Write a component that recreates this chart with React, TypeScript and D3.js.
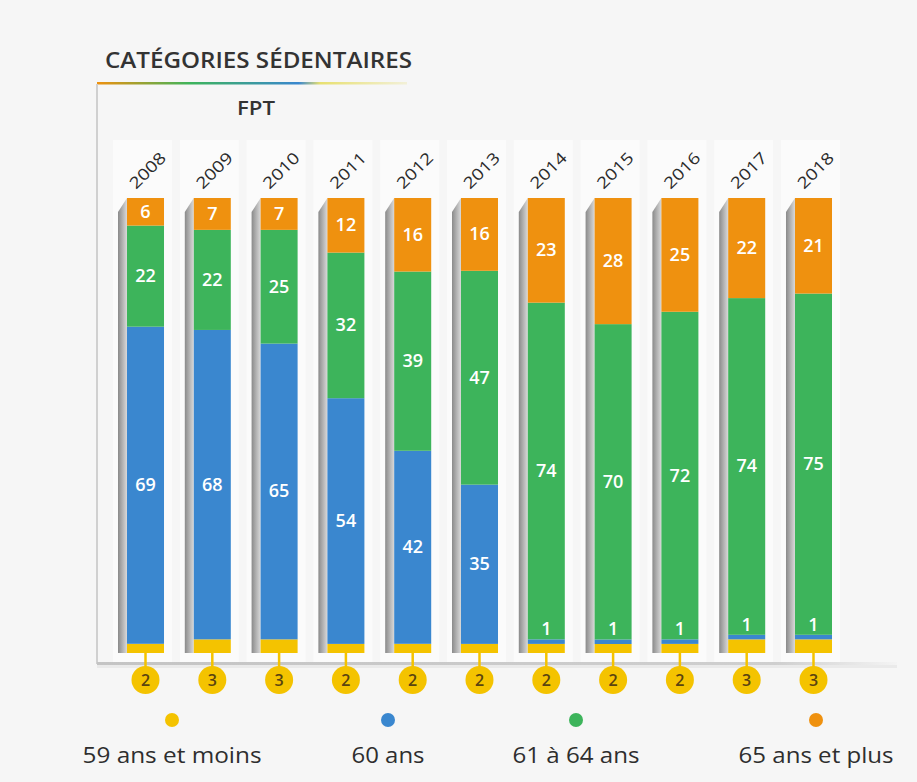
import React, { useEffect, useRef } from 'react';
import * as d3 from 'd3';

const years = ['2008', '2009', '2010', '2011', '2012', '2013', '2014', '2015', '2016', '2017', '2018'];
const under59 = [2, 3, 3, 2, 2, 2, 2, 2, 2, 3, 3];
const age60 = [69, 68, 65, 54, 42, 35, 1, 1, 1, 1, 1];
const age61to64 = [22, 22, 25, 32, 39, 47, 74, 70, 72, 74, 75];
const age65plus = [6, 7, 7, 12, 16, 16, 23, 28, 25, 22, 21];

const seriesKeys = ['under59', 'age60', 'age61to64', 'age65plus'];
const legendLabels = ['59 ans et moins', '60 ans', '61 à 64 ans', '65 ans et plus'];
const colors = ['#f4c300', '#3a87cf', '#3db45b', '#ef910f'];

const W = 917;
const H = 782;
const FONT = '"Open Sans", "Noto Sans", sans-serif';

const App: React.FC = () => {
  const svgRef = useRef<SVGSVGElement | null>(null);

  useEffect(() => {
    document.body.style.margin = '0';
    if (!svgRef.current) return;
    const svg = d3.select(svgRef.current);
    svg.selectAll('*').remove();

    const rows = years.map((y, i) => ({
      year: y,
      under59: under59[i],
      age60: age60[i],
      age61to64: age61to64[i],
      age65plus: age65plus[i],
    }));

    const stack = d3.stack<any>().keys(seriesKeys).offset(d3.stackOffsetExpand);
    const stacked = stack(rows);

    const x = d3.scaleBand<string>().domain(years).range([127, 832]).paddingInner(0.446).paddingOuter(0);
    const y = d3.scaleLinear().domain([0, 1]).range([653, 198]);
    const bw = x.bandwidth();

    const defs = svg.append('defs');
    const side = defs.append('linearGradient').attr('id', 'side').attr('x1', 0).attr('x2', 1);
    side.append('stop').attr('offset', 0).attr('stop-color', '#8a8a8a');
    side.append('stop').attr('offset', 1).attr('stop-color', '#d9d9d9');
    const rule = defs.append('linearGradient').attr('id', 'rule').attr('x1', 0).attr('x2', 1);
    rule.append('stop').attr('offset', 0).attr('stop-color', '#ef910f');
    rule.append('stop').attr('offset', 0.3).attr('stop-color', '#3db45b');
    rule.append('stop').attr('offset', 0.65).attr('stop-color', '#3a87cf');
    rule.append('stop').attr('offset', 0.72).attr('stop-color', '#e8e070');
    rule.append('stop').attr('offset', 1).attr('stop-color', '#f2f0d8');
    const base = defs.append('linearGradient').attr('id', 'base').attr('x1', 0).attr('x2', 1);
    base.append('stop').attr('offset', 0).attr('stop-color', '#c4c4c4');
    base.append('stop').attr('offset', 0.85).attr('stop-color', '#cfcfcf');
    base.append('stop').attr('offset', 1).attr('stop-color', '#f4f4f4');

    svg.append('rect').attr('width', W).attr('height', H).attr('fill', '#f6f6f6');

    // light columns behind bars
    svg.append('g').selectAll('rect').data(years).join('rect')
      .attr('x', d => (x(d) as number) - 14)
      .attr('y', 140)
      .attr('width', bw + 22)
      .attr('height', 525)
      .attr('fill', '#fbfbfb');

    // title
    svg.append('text').attr('x', 105).attr('y', 68)
      .attr('font-family', FONT).attr('font-size', 21).attr('font-weight', 600)
      .attr('fill', '#333').attr('textLength', 307).attr('lengthAdjust', 'spacingAndGlyphs')
      .text('CATÉGORIES SÉDENTAIRES');
    svg.append('rect').attr('x', 97).attr('y', 82).attr('width', 310).attr('height', 2.5).attr('fill', 'url(#rule)');
    svg.append('line').attr('x1', 97).attr('x2', 97).attr('y1', 84).attr('y2', 664)
      .attr('stroke', '#d0d0d0').attr('stroke-width', 2);
    svg.append('text').attr('x', 256).attr('y', 115).attr('text-anchor', 'middle')
      .attr('font-family', FONT).attr('font-size', 19).attr('font-weight', 600)
      .attr('fill', '#333').attr('textLength', 38).attr('lengthAdjust', 'spacingAndGlyphs').text('FPT');

    // year labels
    svg.append('g').selectAll('text').data(years).join('text')
      .attr('transform', d => `translate(${(x(d) as number) + 9},${190}) rotate(-45)`)
      .attr('font-family', FONT).attr('font-size', 16).attr('font-weight', 500).attr('fill', '#2a2a2a')
      .attr('textLength', 44).attr('lengthAdjust', 'spacingAndGlyphs')
      .text(d => d);

    // baseline shadow
    svg.append('rect').attr('x', 97).attr('y', 662).attr('width', 800).attr('height', 3).attr('fill', 'url(#base)');
    svg.append('rect').attr('x', 97).attr('y', 665).attr('width', 800).attr('height', 3).attr('fill', '#e6e6e6').attr('opacity', 0.7);

    // 3D side faces
    svg.append('g').selectAll('path').data(years).join('path')
      .attr('d', d => {
        const x0 = x(d) as number;
        return `M${x0 - 9},${y(1) + 14}L${x0},${y(1)}L${x0},${y(0)}L${x0 - 9},${y(0)}Z`;
      })
      .attr('fill', 'url(#side)');

    // connector + circles
    const bottom = svg.append('g');
    bottom.selectAll('line').data(years).join('line')
      .attr('x1', d => (x(d) as number) + bw / 2)
      .attr('x2', d => (x(d) as number) + bw / 2)
      .attr('y1', y(0)).attr('y2', 670)
      .attr('stroke', colors[0]).attr('stroke-width', 2.5);
    bottom.selectAll('circle').data(years).join('circle')
      .attr('cx', d => (x(d) as number) + bw / 2)
      .attr('cy', 680).attr('r', 14)
      .attr('fill', colors[0]);
    bottom.selectAll('text').data(rows).join('text')
      .attr('x', d => (x(d.year) as number) + bw / 2)
      .attr('y', 686).attr('text-anchor', 'middle')
      .attr('font-family', FONT).attr('font-size', 16).attr('font-weight', 600)
      .attr('fill', '#5a4410').text(d => d.under59);

    // stacked bars
    stacked.forEach((layer, li) => {
      const g = svg.append('g');
      g.selectAll('rect').data(layer).join('rect')
        .attr('x', d => x(d.data.year) as number)
        .attr('y', d => y(d[1]))
        .attr('width', bw)
        .attr('height', d => y(d[0]) - y(d[1]))
        .attr('fill', colors[li]);
    });

    // segment labels
    const labelLayers = [1, 2, 3];
    labelLayers.forEach(li => {
      const layer = stacked[li];
      svg.append('g').selectAll('text').data(layer).join('text')
        .attr('x', d => (x(d.data.year) as number) + bw / 2)
        .attr('y', d => {
          const top = y(d[1]);
          const bot = y(d[0]);
          if (bot - top < 12) return top - 4;
          return (top + bot) / 2 + 6;
        })
        .attr('text-anchor', 'middle')
        .attr('font-family', FONT).attr('font-size', 18).attr('font-weight', 600)
        .attr('fill', '#ffffff')
        .text(d => d.data[seriesKeys[li]]);
    });

    // legend
    const legendX = [172, 388, 576, 816];
    const legendW = [179, 73, 127, 155];
    const legend = svg.append('g');
    legend.selectAll('circle').data(legendLabels).join('circle')
      .attr('cx', (d, i) => legendX[i])
      .attr('cy', 720).attr('r', 7)
      .attr('fill', (d, i) => colors[i]);
    legend.selectAll('text').data(legendLabels).join('text')
      .attr('x', (d, i) => legendX[i] - legendW[i] / 2)
      .attr('y', 763)
      .attr('font-family', FONT).attr('font-size', 22)
      .attr('fill', '#2e2e2e')
      .attr('textLength', (d, i) => legendW[i]).attr('lengthAdjust', 'spacingAndGlyphs')
      .text(d => d);
  }, []);

  return <svg ref={svgRef} width={W} height={H} style={{ display: 'block' }} />;
};

export default App;
